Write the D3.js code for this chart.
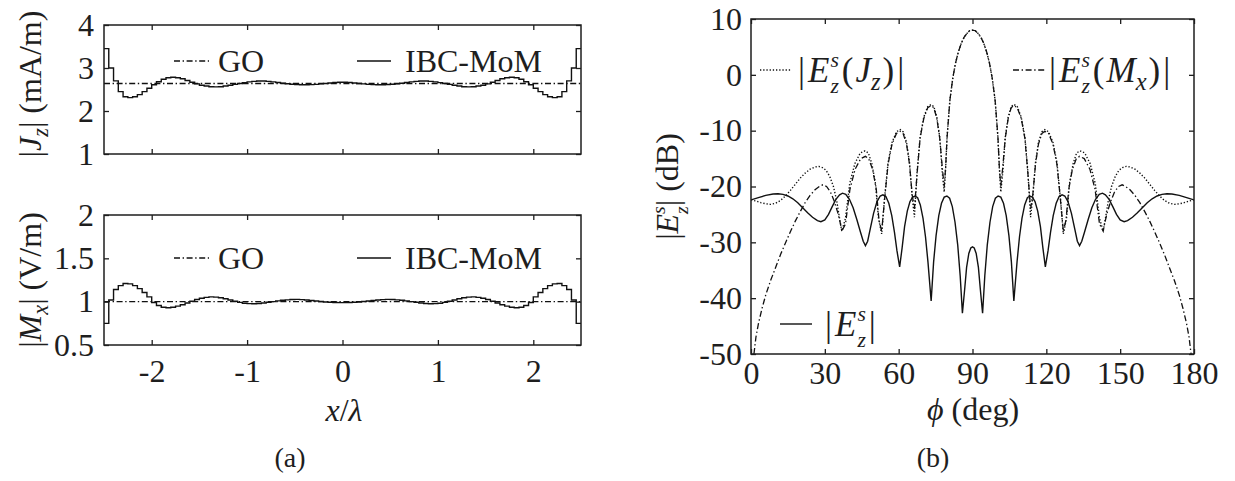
<!DOCTYPE html>
<html>
<head>
<meta charset="utf-8">
<script src="https://cdn.jsdelivr.net/npm/d3@7"></script>
<style>
  html, body { margin: 0; padding: 0; background: #fff; }
  svg { display: block; font-family: "Liberation Serif", "Times New Roman", serif; }
</style>
</head>
<body>
<svg id="fig" width="1235" height="481"></svg>
<script>
// ---------------- (a) surface currents on the strip ----------------
// pulse-basis cells of width 0.05 lambda from x = -2.5 to 2.5
const cellStart = -2.5;
const cellWidth = 0.05;

const xTicks = [-2, -1, 0, 1, 2];
const jzTicks = [1, 2, 3, 4];
const mxTicks = [0.5, 1, 1.5, 2];

// |Jz| (mA/m), IBC-MoM, one value per cell
const jzMoM = [
  3.45, 3.00, 2.70, 2.45, 2.33, 2.31, 2.33, 2.38, 2.45, 2.53,
  2.61, 2.68, 2.74, 2.775, 2.785, 2.775, 2.75, 2.71, 2.67, 2.63,
  2.60, 2.58, 2.565, 2.56, 2.565, 2.58, 2.60, 2.62, 2.64, 2.66,
  2.677, 2.69, 2.697, 2.697, 2.69, 2.677, 2.662, 2.647, 2.633, 2.622,
  2.615, 2.61, 2.61, 2.613, 2.62, 2.63, 2.64, 2.652, 2.662, 2.668,
  2.668, 2.662, 2.652, 2.64, 2.63, 2.62, 2.613, 2.61, 2.61, 2.615,
  2.622, 2.633, 2.647, 2.662, 2.677, 2.69, 2.697, 2.697, 2.69, 2.677,
  2.66, 2.64, 2.62, 2.60, 2.58, 2.565, 2.56, 2.565, 2.58, 2.60,
  2.63, 2.67, 2.71, 2.75, 2.775, 2.785, 2.775, 2.74, 2.68, 2.61,
  2.53, 2.45, 2.38, 2.33, 2.31, 2.33, 2.45, 2.70, 3.00, 3.45
];

// |Mx| (V/m), IBC-MoM, one value per cell
const mxMoM = [
  0.75, 1.02, 1.14, 1.185, 1.21, 1.205, 1.185, 1.15, 1.105, 1.055,
  0.99, 0.955, 0.935, 0.93, 0.935, 0.948, 0.965, 0.985, 1.005, 1.025,
  1.04, 1.05, 1.055, 1.052, 1.045, 1.033, 1.02, 1.005, 0.992, 0.982,
  0.977, 0.976, 0.979, 0.985, 0.993, 1.001, 1.009, 1.016, 1.021, 1.025,
  1.026, 1.024, 1.02, 1.014, 1.008, 1.002, 0.997, 0.993, 0.99, 0.989,
  0.989, 0.99, 0.993, 0.997, 1.002, 1.008, 1.014, 1.02, 1.024, 1.026,
  1.025, 1.021, 1.016, 1.009, 1.001, 0.993, 0.985, 0.979, 0.976, 0.977,
  0.982, 0.992, 1.005, 1.02, 1.033, 1.045, 1.052, 1.055, 1.05, 1.04,
  1.025, 1.005, 0.985, 0.965, 0.948, 0.935, 0.93, 0.935, 0.955, 0.99,
  1.055, 1.105, 1.15, 1.185, 1.205, 1.21, 1.185, 1.14, 1.02, 0.75
];

// geometrical-optics currents
const goX = [-2.5, 2.5];
const jzGO = [2.64, 2.64];
const mxGO = [1.0, 1.0];

// ---------------- (b) scattered far field ----------------
const phiTicks = [0, 30, 60, 90, 120, 150, 180];
const dbTicks = [-50, -40, -30, -20, -10, 0, 10];

// |Ez^s| total
const phiTot = [0,3,6,9,11,13,15,17,19,21,23,25,27,28.4,30,31.5,33,34.5,36,37.2,
  38.5,40,41.5,43,44.5,45.6,46.5,47.4,48.5,49.8,51.2,52.5,53.6,54.8,56,57.2,58.3,59.3,60.4,61.4,
  62.4,63.5,64.6,65.7,66.7,67.7,68.8,69.9,70.9,71.9,73.2,74.2,75.2,76.3,77.4,78.5,79.6,80.7,81.8,82.9,
  84.0,85.0,85.9,86.8,87.6,88.5,89.3,90,90.7,91.5,92.4,93.2,94.1,95,96,97.1,98.2,99.3,100.4,101.5,
  102.6,103.7,104.8,105.8,106.8,108.1,109.1,110.1,111.2,112.3,113.3,114.3,115.4,116.5,117.6,118.6,119.6,120.7,121.7,122.8,
  124,125.2,126.4,127.5,128.8,130.2,131.5,132.6,133.5,134.4,135.5,137,138.5,140,141.5,142.8,144,145.5,147,148.5,
  150,151.6,153,155,157,159,161,163,165,167,169,171,174,177,180];
const dbTot = [-22.4,-22.0,-21.6,-21.35,-21.3,-21.4,-21.7,-22.2,-22.9,-23.8,-24.7,-25.5,-26.1,-26.3,-26.0,-25.0,-23.6,-22.3,-21.5,-21.2,
  -21.4,-22.3,-23.8,-25.9,-28.2,-29.8,-30.6,-29.8,-27.5,-24.8,-22.7,-21.7,-21.5,-21.8,-23.0,-25.2,-28.2,-31.5,-34.4,-31.0,
  -27.2,-24.4,-22.7,-21.9,-21.7,-22.0,-23.3,-25.7,-29.0,-33.5,-40.5,-33.5,-28.8,-25.2,-23.0,-21.9,-21.7,-22.1,-23.6,-26.4,
  -30.5,-36,-42.7,-38.5,-34.5,-32,-31,-30.8,-31,-32,-34.5,-38.5,-42.7,-36,-30.5,-26.4,-23.6,-22.1,-21.7,-21.9,
  -23.0,-25.2,-28.8,-33.5,-40.5,-33.5,-29.0,-25.7,-23.3,-22.0,-21.7,-21.9,-22.7,-24.4,-27.2,-31.0,-34.4,-31.5,-28.2,-25.2,
  -23.0,-21.8,-21.5,-21.7,-22.7,-24.8,-27.5,-29.8,-30.6,-29.8,-28.2,-25.9,-23.8,-22.3,-21.4,-21.2,-21.5,-22.3,-23.6,-25.0,
  -26.0,-26.3,-26.1,-25.5,-24.7,-23.8,-22.9,-22.2,-21.7,-21.4,-21.3,-21.35,-21.6,-22.0,-22.4];

// |Ez^s(Jz)| from the electric current alone
const phiJz = [0,2,4,6,8,10,12,14,16,18,20,22,24,26,27.5,29,30.5,32,33.5,34.8,35.9,36.9,
  38.4,40.1,42.2,44.4,46.3,47.7,49.1,50.6,51.8,53.1,
  54.3,55.7,57.3,59.1,60.6,61.8,63.2,64.4,65.5,66.4,
  67.5,68.7,70.2,71.8,73.2,74.3,75.5,76.7,77.7,78.5,
  79.1,79.65,80.8,81.95,83.1,84.25,85.4,86.55,87.7,88.85,90,91.15,92.3,93.45,94.6,95.75,96.9,98.05,99.2,100.35,100.9,101.5,
  102.3,103.3,104.5,105.7,106.8,108.2,109.8,111.3,112.5,113.6,
  114.5,115.6,116.8,118.2,119.4,120.9,122.7,124.3,125.7,126.9,
  128.2,129.4,130.9,132.3,133.7,135.6,137.8,139.9,141.6,143.1,
  144.1,145.2,146.5,148,149.5,151,152.5,154,156,158,160,162,164,166,168,170,172,174,176,178,180];
const dbJz = [-22.4,-22.6,-22.9,-23.1,-23.2,-23.0,-22.5,-21.7,-20.7,-19.6,-18.5,-17.6,-16.9,-16.5,-16.4,-16.6,-17.1,-18.2,-20.0,-22.5,-25.5,-28,
  -25.7,-19.5,-15.9,-14.0,-13.6,-14.0,-15.9,-19.5,-25.7,-28.5,
  -21.9,-15.7,-12.1,-10.2,-9.8,-10.2,-12.1,-15.7,-21.9,-25.5,
  -17.4,-11.2,-7.6,-5.7,-5.3,-5.7,-7.6,-11.2,-17.4,-21,
  -16.6,-11.3,-4.6,-0.7,2.1,4.1,5.6,6.7,7.4,7.9,8.0,7.9,7.4,6.7,5.6,4.1,2.1,-0.7,-4.6,-11.3,-16.6,-21,
  -17.4,-11.2,-7.6,-5.7,-5.3,-5.7,-7.6,-11.2,-17.4,-25.5,
  -21.9,-15.7,-12.1,-10.2,-9.8,-10.2,-12.1,-15.7,-21.9,-28.5,
  -25.7,-19.5,-15.9,-14.0,-13.6,-14.0,-15.9,-19.5,-25.7,-28,
  -25.5,-22.5,-20.0,-18.2,-17.1,-16.6,-16.4,-16.5,-16.9,-17.6,-18.5,-19.6,-20.7,-21.7,-22.5,-23.0,-23.2,-23.1,-22.9,-22.6,-22.4];

// |Ez^s(Mx)| from the magnetic current alone
const phiMx = [1.2,2,3,4.5,6,8,10,12,14,16,18,20,22,24,26,27.8,29.2,30.7,32.3,33.8,35.2,36.2,36.9,
  38.4,40.2,42.3,44.6,46.5,47.8,49.4,50.9,52.0,53.1,
  54.3,55.7,57.3,59.1,60.6,61.8,63.2,64.4,65.5,66.4,
  67.5,68.7,70.2,71.8,73.2,74.3,75.5,76.7,77.7,78.5,
  79.1,79.65,80.8,81.95,83.1,84.25,85.4,86.55,87.7,88.85,90,91.15,92.3,93.45,94.6,95.75,96.9,98.05,99.2,100.35,100.9,101.5,
  102.3,103.3,104.5,105.7,106.8,108.2,109.8,111.3,112.5,113.6,
  114.5,115.6,116.8,118.2,119.4,120.9,122.7,124.3,125.7,126.9,
  128.0,129.1,130.6,132.2,133.5,135.4,137.7,139.8,141.6,143.1,
  143.8,144.8,146.2,147.7,149.3,150.8,152.2,154,156,158,160,162,164,166,168,170,172,174,175.5,177,178,178.8];
const dbMx = [-50,-47,-44.6,-41.8,-39.4,-36.8,-34.5,-32.2,-30.1,-28.1,-26.2,-24.5,-22.9,-21.6,-20.6,-20.0,-19.7,-20.0,-21.0,-22.6,-24.6,-26.4,-28,
  -26.7,-20.5,-16.9,-15.0,-14.6,-15.0,-16.9,-20.5,-26.0,-28,
  -22.2,-16.0,-12.4,-10.5,-10.1,-10.5,-12.4,-16.0,-21.5,-24,
  -17.6,-11.4,-7.8,-5.9,-5.5,-5.9,-7.8,-11.4,-16.5,-20,
  -16.5,-11.3,-4.6,-0.7,2.1,4.1,5.6,6.7,7.4,7.9,8.0,7.9,7.4,6.7,5.6,4.1,2.1,-0.7,-4.6,-11.3,-16.5,-20,
  -16.5,-11.4,-7.8,-5.9,-5.5,-5.9,-7.8,-11.4,-17.6,-24,
  -21.5,-16.0,-12.4,-10.5,-10.1,-10.5,-12.4,-16.0,-22.2,-28,
  -26.0,-20.5,-16.9,-15.0,-14.6,-15.0,-16.9,-20.5,-26.7,-28,
  -26.4,-24.6,-22.6,-21.0,-20.0,-19.7,-20.0,-20.6,-21.6,-22.9,-24.5,-26.2,-28.1,-30.1,-32.2,-34.5,-36.8,-39.4,-41.8,-44.6,-47,-50];

// ---------------- drawing ----------------
const svg = d3.select("#fig");
const ink = "#1e1e1e";
const FS = 32;
const dashDot = "6,2.6,1.4,2.6";
const dotted = "1.3,1.9";

// text built from pieces: plain strings or {t, it, sub, sup, back, dx}
function mathText(parent, x, y, parts, opt = {}) {
  const size = opt.size || FS;
  const t = parent.append("text")
    .attr("font-size", size)
    .attr("fill", ink)
    .attr("text-anchor", opt.anchor || "start")
    .attr("transform", `translate(${x},${y}) rotate(${opt.rotate || 0})`);
  let shift = 0, prevW = 0;
  parts.forEach(p => {
    const s = typeof p === "string" ? { t: p } : p;
    const ts = t.append("tspan").text(s.t);
    if (s.it) ts.attr("font-style", "italic");
    let target = 0, fs = size;
    if (s.sup) { target = -0.42 * size; fs = 0.62 * size; }
    if (s.sub) { target = (s.low ? 0.3 : 0.22) * size; fs = (s.low ? 0.62 : 0.7) * size; }
    ts.attr("font-size", fs);
    if (target - shift !== 0) ts.attr("dy", target - shift);
    const dx = (s.back ? -prevW : 0) + (s.dx || 0);
    if (dx) ts.attr("dx", dx);
    shift = target;
    prevW = ts.node().getComputedTextLength();
  });
  return t;
}

function styleAxis(g) {
  g.select(".domain").remove();
  g.attr("font-size", FS).attr("font-family", null).attr("color", ink);
  g.selectAll(".tick line").attr("stroke-width", 1.3);
  g.selectAll(".tick text").attr("fill", ink);
}

// box with inward ticks on all four sides
function drawFrame(g, x, y, xt, yt, o) {
  const [x0, x1] = x.range();
  const [y0, y1] = y.range(); // y0 bottom, y1 top
  const fmt = d => String(d);
  g.append("g").attr("transform", `translate(0,${y0})`)
    .call(d3.axisBottom(x).tickValues(xt).tickSize(-5).tickPadding(o.xPad)
      .tickFormat(o.xLabels ? fmt : () => ""))
    .call(styleAxis);
  g.append("g").attr("transform", `translate(0,${y1})`)
    .call(d3.axisTop(x).tickValues(xt).tickSize(-5).tickFormat(() => ""))
    .call(styleAxis);
  g.append("g").attr("transform", `translate(${x0},0)`)
    .call(d3.axisLeft(y).tickValues(yt).tickSize(-5).tickPadding(o.yPad).tickFormat(fmt))
    .call(styleAxis);
  g.append("g").attr("transform", `translate(${x1},0)`)
    .call(d3.axisRight(y).tickValues(yt).tickSize(-5).tickFormat(() => ""))
    .call(styleAxis);
  g.append("rect")
    .attr("x", x0).attr("y", y1).attr("width", x1 - x0).attr("height", y0 - y1)
    .attr("fill", "none").attr("stroke", ink).attr("stroke-width", 1.5);
}

function clipFor(id, x, y) {
  const [x0, x1] = x.range();
  const [y0, y1] = y.range();
  svg.append("clipPath").attr("id", id).append("rect")
    .attr("x", x0).attr("y", y1).attr("width", x1 - x0).attr("height", y0 - y1);
  return `url(#${id})`;
}

function legendLine(g, x0, x1, y, dash) {
  g.append("line").attr("x1", x0).attr("x2", x1).attr("y1", y).attr("y2", y)
    .attr("stroke", "#111").attr("stroke-width", 1.4)
    .attr("stroke-dasharray", dash || null);
}

// ---- panel (a) ----
const xA = d3.scaleLinear().domain([-2.5, 2.5]).range([104, 581]);
const yJ = d3.scaleLinear().domain([1, 4]).range([154, 25]);
const yM = d3.scaleLinear().domain([0.5, 2]).range([345, 215]);

function stairs(values) {
  const pts = values.map((v, i) => [cellStart + i * cellWidth, v]);
  pts.push([cellStart + values.length * cellWidth, values[values.length - 1]]);
  return pts;
}

function currentPanel(yScale, ticks, mom, go, id, xLabels, legendY) {
  const g = svg.append("g");
  const clip = clipFor(id, xA, yScale);
  const plot = g.append("g").attr("clip-path", clip);
  plot.append("path")
    .datum(goX.map((x, i) => [x, go[i]]))
    .attr("d", d3.line().x(d => xA(d[0])).y(d => yScale(d[1])))
    .attr("fill", "none").attr("stroke", "#111").attr("stroke-width", 1.3)
    .attr("stroke-dasharray", dashDot);
  plot.append("path")
    .datum(stairs(mom))
    .attr("d", d3.line().curve(d3.curveStepAfter).x(d => xA(d[0])).y(d => yScale(d[1])))
    .attr("fill", "none").attr("stroke", "#111").attr("stroke-width", 1.4);
  drawFrame(g, xA, yScale, xTicks, ticks, { xPad: 14, yPad: 10, xLabels });
  legendLine(g, 174, 209, legendY, dashDot);
  mathText(g, 218, legendY + 11, ["GO"]);
  legendLine(g, 357, 391, legendY);
  mathText(g, 405, legendY + 11, ["IBC-MoM"]);
}

currentPanel(yJ, jzTicks, jzMoM, jzGO, "clipJ", false, 61);
currentPanel(yM, mxTicks, mxMoM, mxGO, "clipM", true, 258);

mathText(svg, 41, 84, ["|", { t: "J", it: true }, { t: "z", it: true, sub: true }, "| (mA/m)"],
  { anchor: "middle", rotate: -90 });
mathText(svg, 41, 280, ["|", { t: "M", it: true }, { t: "x", it: true, sub: true }, "| (V/m)"],
  { anchor: "middle", rotate: -90 });
mathText(svg, 344, 421, [{ t: "x", it: true }, "/", { t: "λ", it: true }], { anchor: "middle" });
mathText(svg, 290, 467, ["(a)"], { anchor: "middle", size: 28 });

// ---- panel (b) ----
const xB = d3.scaleLinear().domain([0, 180]).range([751, 1194]);
const yB = d3.scaleLinear().domain([-50, 10]).range([354, 19]);
const gB = svg.append("g");
const plotB = gB.append("g").attr("clip-path", clipFor("clipB", xB, yB));
const lineB = d3.line().x(d => xB(d[0])).y(d => yB(d[1]));

plotB.append("path").datum(d3.zip(phiMx, dbMx)).attr("d", lineB)
  .attr("fill", "none").attr("stroke", "#111").attr("stroke-width", 1.3)
  .attr("stroke-dasharray", dashDot);
plotB.append("path").datum(d3.zip(phiJz, dbJz)).attr("d", lineB)
  .attr("fill", "none").attr("stroke", "#111").attr("stroke-width", 1.4)
  .attr("stroke-dasharray", dotted);
plotB.append("path").datum(d3.zip(phiTot, dbTot)).attr("d", lineB)
  .attr("fill", "none").attr("stroke", "#111").attr("stroke-width", 1.4);

drawFrame(gB, xB, yB, phiTicks, dbTicks, { xPad: 7, yPad: 9, xLabels: true });

// |E_z^s ...| with the z stacked under the s
const ezLegend = [{ t: "|", dx: 0 }, { t: "E", it: true, dx: 3 },
  { t: "s", it: true, sup: true, dx: 1 }, { t: "z", it: true, sub: true, low: true, back: true }];
const legSize = 35;
legendLine(gB, 760, 792, 70, dotted);
mathText(gB, 798, 82, [...ezLegend, { t: "(", dx: 3 }, { t: "J", it: true, dx: 2 },
  { t: "z", it: true, sub: true }, { t: ")", dx: 2 }, { t: "|", dx: 3 }], { size: legSize });
legendLine(gB, 1013, 1045, 70, dashDot);
mathText(gB, 1049, 82, [...ezLegend, { t: "(", dx: 3 }, { t: "M", it: true, dx: 2 },
  { t: "x", it: true, sub: true }, { t: ")", dx: 2 }, { t: "|", dx: 3 }], { size: legSize });
legendLine(gB, 780, 812, 324);
mathText(gB, 825, 336, [...ezLegend, { t: "|", dx: 3 }], { size: legSize });

mathText(svg, 678, 186.5, ["|", { t: "E", it: true }, { t: "s", it: true, sup: true },
  { t: "z", it: true, sub: true, low: true, back: true }, "| (dB)"], { anchor: "middle", rotate: -90 });
mathText(svg, 973, 420, [{ t: "ϕ", it: true }, " (deg)"], { anchor: "middle" });
mathText(svg, 933, 467, ["(b)"], { anchor: "middle", size: 28 });
</script>
</body>
</html>
